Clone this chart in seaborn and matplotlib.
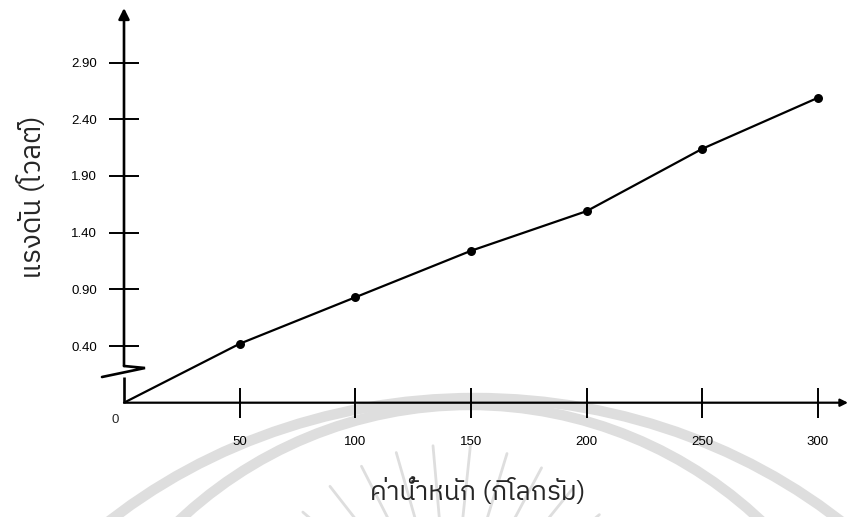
import numpy as np
import matplotlib
matplotlib.use("Agg")
import matplotlib.pyplot as plt
from matplotlib import font_manager
from matplotlib.ft2font import FT2Font
from matplotlib.patches import Circle, Ellipse
import seaborn as sns

# Measured load-cell output: applied weight vs. output voltage
weight_kg = [0, 50, 100, 150, 200, 250, 300]
voltage_v = [0.0, 0.42, 0.83, 1.24, 1.59, 2.14, 2.59]

x_ticks = [50, 100, 150, 200, 250, 300]
y_ticks = [0.40, 0.90, 1.40, 1.90, 2.40, 2.90]
y_tick_labels = ["0.40", "0.90", "1.40", "1.90", "2.40", "2.90"]

x_label = "ค่าน้ำหนัก (กิโลกรัม)"
y_label = "แรงดัน (โวลต์)"


def find_thai_fonts():
    """Return installed family names that contain Thai glyphs."""
    found = []
    for entry in font_manager.fontManager.ttflist:
        try:
            cmap = FT2Font(entry.fname).get_charmap()
        except Exception:
            continue
        if 0x0E01 in cmap and 0x0E49 in cmap and entry.name not in found:
            found.append(entry.name)
    found.sort(key=lambda n: (0 if "Thai" in n else 1, n))
    return found


sns.set_style("white")
thai_families = find_thai_fonts() + ["DejaVu Sans"]
num_families = ["Liberation Sans Narrow", "Liberation Sans", "DejaVu Sans"]
plt.rcParams["font.family"] = num_families

W, H = 851, 517
fig = plt.figure(figsize=(W / 100, H / 100), dpi=100)
fig.patch.set_facecolor("white")

# Background layer in pixel units for the faint seal and the axis break
bg = fig.add_axes([0, 0, 1, 1], zorder=0)
bg.set_xlim(0, W)
bg.set_ylim(H, 0)
bg.axis("off")
seal = "#dedede"
bg.add_patch(Ellipse((475, 905), 1120, 1014, fill=False, lw=7.5, ec=seal))
bg.add_patch(Circle((470, 829), 424, fill=False, lw=7.5, ec=seal))
for ang in np.arange(40, 141, 11):
    t = np.deg2rad(ang)
    r0, r1 = 115, 195
    bg.plot([450 + r0 * np.cos(t), 450 + r1 * np.cos(t)],
            [640 - r0 * np.sin(t), 640 - r1 * np.sin(t)],
            color=seal, lw=2.0, solid_capstyle="round")

# Main axes: y axis stretched below 0.40 to leave room for the break mark
ax_left, ax_bottom = 124 / W, (H - 402.7) / H
ax = fig.add_axes([ax_left, ax_bottom, 724 / W, 394.7 / H], zorder=1)
ax.patch.set_alpha(0)


def fwd(y):
    y = np.asarray(y, dtype=float)
    return np.where(y >= 0.4, y, 0.4 - (0.4 - y) * 1.25)


def inv(d):
    d = np.asarray(d, dtype=float)
    return np.where(d >= 0.4, d, 0.4 - (0.4 - d) / 1.25)


ax.set_yscale("function", functions=(fwd, inv))
ax.set_xlim(0, 313)
ax.set_ylim(0, 3.382)

sns.lineplot(x=weight_kg, y=voltage_v, ax=ax, color="black", lw=1.6,
             estimator=None, sort=False)
sns.scatterplot(x=weight_kg[1:], y=voltage_v[1:], ax=ax, color="black",
                s=42, edgecolor="black", linewidth=0, zorder=5)

for side in ax.spines.values():
    side.set_visible(False)

# Axis lines with arrow heads
ax.annotate("", xy=(1.0, 0), xytext=(0, 0), xycoords="axes fraction",
            arrowprops=dict(arrowstyle="-|>", color="black", lw=1.6,
                            mutation_scale=11, shrinkA=0, shrinkB=0))
ax.annotate("", xy=(0, 1.0), xytext=(0, 0.093), xycoords="axes fraction",
            arrowprops=dict(arrowstyle="-|>", color="black", lw=1.9,
                            mutation_scale=16, shrinkA=0, shrinkB=0))
ax.plot([0, 0], [0, 0.065], transform=ax.transAxes, color="black", lw=1.9,
        clip_on=False, solid_capstyle="butt")
bg.plot([124, 145, 102], [366, 368, 377], color="black", lw=1.9,
        solid_joinstyle="miter")

ax.set_xticks(x_ticks)
ax.set_xticklabels([str(v) for v in x_ticks])
ax.set_yticks(y_ticks)
ax.set_yticklabels(y_tick_labels)
ax.tick_params(axis="both", direction="inout", length=21, width=1.4,
               colors="black", labelsize=9.5, bottom=True, left=True)
ax.tick_params(axis="x", pad=13.5)
ax.tick_params(axis="y", pad=9)
ax.minorticks_off()

ax.annotate("0", xy=(0, 0), xycoords="data", xytext=(-6.5, -12.5),
            textcoords="offset points", ha="center", va="center",
            fontsize=9.5)

ax.set_xlabel(x_label, fontsize=19, family=thai_families)
ax.xaxis.set_label_coords((478 - 124) / 724, (402.7 - 491) / 394.7)
ax.xaxis.label.set_va("center")
ax.set_ylabel(y_label, fontsize=20, family=thai_families)
ax.yaxis.set_label_coords((33 - 124) / 724, (402.7 - 197) / 394.7)
ax.yaxis.label.set_va("center")

fig.savefig("out.png", dpi=100, facecolor="white")
